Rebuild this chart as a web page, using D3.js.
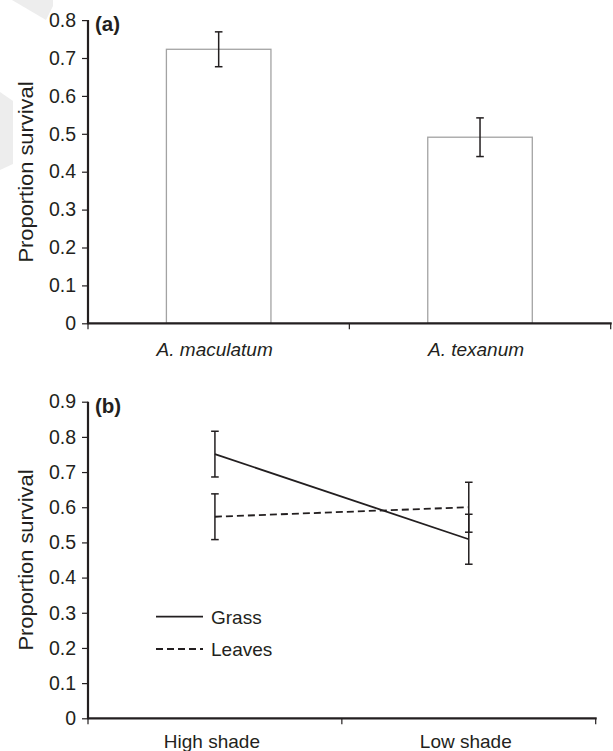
<!DOCTYPE html>
<html>
<head>
<meta charset="utf-8">
<script src="https://cdnjs.cloudflare.com/ajax/libs/d3/7.8.5/d3.min.js"></script>
<style>
  html, body { margin: 0; padding: 0; background: #fff; }
  svg { display: block; font-family: "Liberation Sans", Arial, Helvetica, sans-serif; }
</style>
</head>
<body>
<svg id="chart" width="613" height="751"></svg>
<script>
// ---- Data ----
// Panel (a)
const speciesCats = ["A. maculatum", "A. texanum"];
const speciesMeans = [0.723, 0.491];
const speciesSE = [0.046, 0.051];
const yTicksA = [0, 0.1, 0.2, 0.3, 0.4, 0.5, 0.6, 0.7, 0.8];

// Panel (b)
const shadeCats = ["High shade", "Low shade"];
const grassMeans = [0.751, 0.509];
const grassSE = [0.065, 0.071];
const leavesMeans = [0.573, 0.600];
const leavesSE = [0.065, 0.071];
const yTicksB = [0, 0.1, 0.2, 0.3, 0.4, 0.5, 0.6, 0.7, 0.8, 0.9];
const seriesNames = ["Grass", "Leaves"];

const svg = d3.select("#chart");
const dark = "#231f20";
const fs = 19.5;

// faint watermark in the corner
svg.append("polygon").attr("points", "12,0 53,0 53,6 46,20").attr("fill", "#ededed");
svg.append("polygon").attr("points", "0,92 13,101 13,164 0,170").attr("fill", "#ededed");

function fmt(v) { return v === 0 ? "0" : d3.format(".1f")(v); }

function drawYAxis(g, y, ticks, x0) {
  const ax = d3.axisLeft(y).tickValues(ticks).tickFormat(fmt).tickSize(6).tickPadding(6);
  const a = g.append("g").attr("transform", `translate(${x0},0)`).call(ax);
  a.select(".domain").attr("stroke", dark).attr("stroke-width", 2.2)
    .attr("d", `M0,${y.range()[1]}V${y.range()[0] + 1}`);
  a.selectAll(".tick line").attr("stroke", dark).attr("stroke-width", 1.2);
  a.selectAll(".tick text").attr("fill", dark).attr("font-size", fs)
    .attr("font-family", "Liberation Sans, Arial, sans-serif");
  return a;
}

function drawXAxis(g, x, y0, cats) {
  const r = x.range();
  g.append("line").attr("x1", r[0]).attr("x2", r[1] + 1).attr("y1", y0).attr("y2", y0)
    .attr("stroke", dark).attr("stroke-width", 2.2);
  const bounds = [r[0]].concat(cats.map(c => x(c) + x.bandwidth()));
  g.selectAll(null).data(bounds).enter().append("line")
    .attr("x1", d => d).attr("x2", d => d).attr("y1", y0).attr("y2", y0 + 6)
    .attr("stroke", dark).attr("stroke-width", 1.2);
}

function yTitle(g, cx, cy) {
  g.append("text").attr("transform", `translate(${cx},${cy}) rotate(-90)`)
    .attr("text-anchor", "middle").attr("font-size", 21).attr("fill", dark)
    .attr("textLength", 181).attr("lengthAdjust", "spacingAndGlyphs")
    .text("Proportion survival");
}

// ---- Panel (a) ----
{
  const g = svg.append("g");
  const y = d3.scaleLinear().domain([0, 0.8]).range([323.3, 20.1]);
  const x = d3.scaleBand().domain(speciesCats).range([88, 610.7]).padding(0);
  const bw = x.bandwidth() * 0.4;

  g.selectAll("rect.bar").data(speciesCats).enter().append("rect")
    .attr("class", "bar")
    .attr("x", d => x(d) + x.bandwidth() / 2 - bw / 2)
    .attr("width", bw)
    .attr("y", (d, i) => y(speciesMeans[i]))
    .attr("height", (d, i) => y(0) - y(speciesMeans[i]))
    .attr("fill", "#fff").attr("stroke", "#a3a3a3").attr("stroke-width", 1.3);

  const eb = g.selectAll("g.eb").data(speciesCats).enter().append("g");
  eb.append("line")
    .attr("x1", d => x(d) + x.bandwidth() / 2).attr("x2", d => x(d) + x.bandwidth() / 2)
    .attr("y1", (d, i) => y(speciesMeans[i] + speciesSE[i]))
    .attr("y2", (d, i) => y(speciesMeans[i] - speciesSE[i]))
    .attr("stroke", dark).attr("stroke-width", 1.5);
  [1, -1].forEach(s => {
    eb.append("line")
      .attr("x1", d => x(d) + x.bandwidth() / 2 - 3.8).attr("x2", d => x(d) + x.bandwidth() / 2 + 3.8)
      .attr("y1", (d, i) => y(speciesMeans[i] + s * speciesSE[i]))
      .attr("y2", (d, i) => y(speciesMeans[i] + s * speciesSE[i]))
      .attr("stroke", dark).attr("stroke-width", 1.5);
  });

  drawYAxis(g, y, yTicksA, 88);
  drawXAxis(g, x, y(0), speciesCats);

  g.selectAll("text.xl").data(speciesCats).enter().append("text")
    .attr("class", "xl")
    .attr("x", d => x(d) + x.bandwidth() / 2 - 4).attr("y", 356)
    .attr("text-anchor", "middle").attr("font-size", 19).attr("font-style", "italic")
    .attr("fill", dark).text(d => d);

  g.append("text").attr("x", 95).attr("y", 31).attr("font-size", 20.5).attr("font-weight", "bold")
    .attr("fill", dark).text("(a)");
  yTitle(g, 33, 172);
}

// ---- Panel (b) ----
{
  const g = svg.append("g");
  const y = d3.scaleLinear().domain([0, 0.9]).range([718.3, 401.7]);
  const x = d3.scaleBand().domain(shadeCats).range([88, 595.7]).padding(0);
  const cx = d => x(d) + x.bandwidth() / 2;

  const series = [
    { name: seriesNames[0], means: grassMeans, se: grassSE, dash: null },
    { name: seriesNames[1], means: leavesMeans, se: leavesSE, dash: "7,4" }
  ];

  const line = d3.line().x(d => cx(d.cat)).y(d => y(d.v));

  series.forEach(s => {
    const pts = shadeCats.map((c, i) => ({ cat: c, v: s.means[i], e: s.se[i] }));
    g.append("path").datum(pts).attr("d", line)
      .attr("fill", "none").attr("stroke", dark).attr("stroke-width", 1.8)
      .attr("stroke-dasharray", s.dash);
    pts.forEach(p => {
      g.append("line").attr("x1", cx(p.cat)).attr("x2", cx(p.cat))
        .attr("y1", y(p.v + p.e)).attr("y2", y(p.v - p.e))
        .attr("stroke", dark).attr("stroke-width", 1.5);
      [1, -1].forEach(k => {
        g.append("line").attr("x1", cx(p.cat) - 3.8).attr("x2", cx(p.cat) + 3.8)
          .attr("y1", y(p.v + k * p.e)).attr("y2", y(p.v + k * p.e))
          .attr("stroke", dark).attr("stroke-width", 1.5);
      });
    });
  });

  drawYAxis(g, y, yTicksB, 88);
  drawXAxis(g, x, y(0), shadeCats);

  g.selectAll("text.xl").data(shadeCats).enter().append("text")
    .attr("class", "xl")
    .attr("x", d => cx(d) - 3).attr("y", 748)
    .attr("text-anchor", "middle").attr("font-size", 19)
    .attr("fill", dark).text(d => d);

  // legend
  const lg = g.append("g");
  const legY = [616.7, 649];
  series.forEach((s, i) => {
    lg.append("line").attr("x1", 156).attr("x2", 203).attr("y1", legY[i]).attr("y2", legY[i])
      .attr("stroke", dark).attr("stroke-width", 1.8).attr("stroke-dasharray", s.dash);
    lg.append("text").attr("x", 211).attr("y", legY[i]).attr("dy", "0.36em")
      .attr("font-size", 19).attr("fill", dark).text(s.name);
  });

  g.append("text").attr("x", 95).attr("y", 413).attr("font-size", 20.5).attr("font-weight", "bold")
    .attr("fill", dark).text("(b)");
  yTitle(g, 33, 560);
}
</script>
</body>
</html>
